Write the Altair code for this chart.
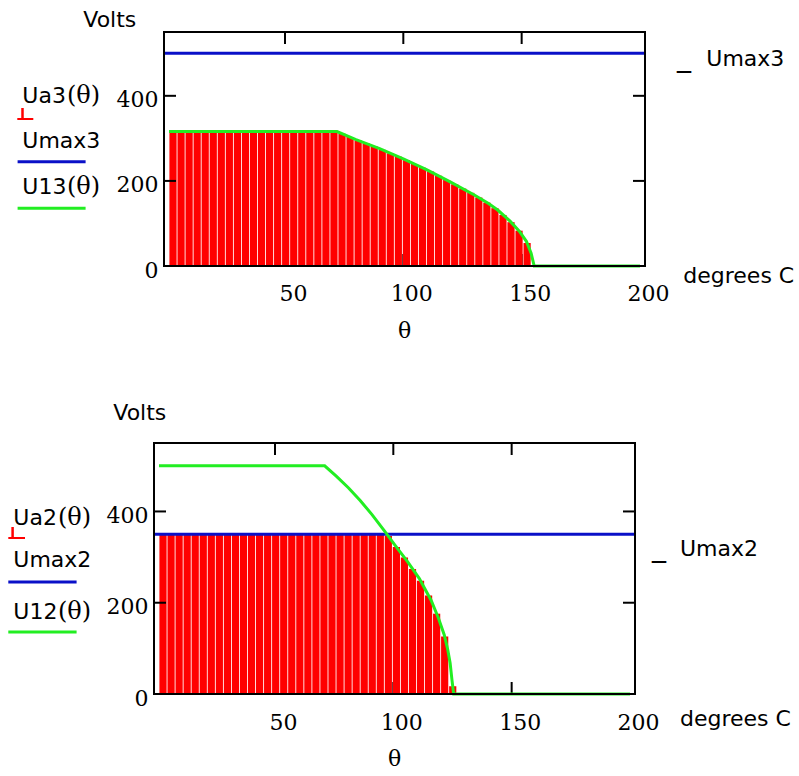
import altair as alt
import pandas as pd

# ---------------- data ----------------
# top panel (phase 3)
bar_theta_top = [2.7, 6.1, 9.5, 12.9, 16.3, 19.7, 23.1, 26.5, 29.9, 33.3, 36.7, 40.1,
                 43.5, 46.9, 50.3, 53.7, 57.1, 60.5, 63.9, 67.3, 70.7, 74.1, 77.5, 80.9,
                 84.3, 87.7, 91.1, 94.5, 97.9, 101.3, 104.7, 108.1, 111.5, 114.9, 118.3,
                 121.7, 125.1, 128.5, 131.9, 135.3, 138.7, 142.1, 145.5, 148.9, 152.3]
ua3 = [316, 316, 316, 316, 316, 316, 316, 316, 316, 316, 316, 316,
       316, 316, 316, 316, 316, 316, 316, 316, 316, 311, 303, 295,
       288, 281, 273, 265, 257, 249, 240, 231, 222, 212, 202,
       192, 182, 172, 161, 149, 136, 120, 103, 83, 54]
u13_theta = [1, 72, 80, 90, 100, 110, 120, 130, 136, 140, 145, 149, 152, 154, 155.3, 200]
u13 = [316, 316, 297, 276, 252, 226, 197, 167, 147, 131, 106, 82, 58, 30, 0, 0]
umax3 = [500]

# bottom panel (phase 2)
bar_theta_bot = [2.7, 6.1, 9.5, 12.9, 16.3, 19.7, 23.1, 26.5, 29.9, 33.3, 36.7, 40.1,
                 43.5, 46.9, 50.3, 53.7, 57.1, 60.5, 63.9, 67.3, 70.7, 74.1, 77.5, 80.9,
                 84.3, 87.7, 91.1, 94.5, 97.9, 101.3, 104.7, 108.1, 111.5, 114.9, 118.3,
                 121.7, 125.1]
ua2 = [350, 350, 350, 350, 350, 350, 350, 350, 350, 350, 350, 350,
       350, 350, 350, 350, 350, 350, 350, 350, 350, 350, 350, 350,
       350, 350, 350, 350, 346, 322, 299, 274, 248, 216, 176,
       126, 17]
u12_theta = [1, 71, 76, 81, 86, 91, 96, 101, 106, 111, 116, 119, 121.5, 123, 124, 124.8, 125.5, 200]
u12 = [500, 500, 477, 452, 424, 393, 359, 324, 290, 253, 205, 167, 130, 97, 68, 30, 0, 0]
umax2 = [350]

x_label_values = [50, 100, 150, 200]
x_tick_values = [50, 100, 150]
y_label_values = [0, 200, 400]
y_tick_values = [200, 400]

RED = "#ff0000"
GREEN = "#22ee22"
BLUE = "#0a10c8"
SANS = "DejaVu Sans"
SERIF = "DejaVu Serif"
PW = 481  # plot frame width
ONE = pd.DataFrame({"k": [0]})


def txt(text, x, y, font=SANS, size=22, align="left", baseline="alphabetic"):
    return alt.Chart(ONE).mark_text(text=text, font=font, fontSize=size, align=align,
                                    baseline=baseline, color="black").encode(
        x=alt.value(x), y=alt.value(y))


def hline(x1, x2, y, color, sw=3):
    return alt.Chart(ONE).mark_rule(color=color, strokeWidth=sw).encode(
        x=alt.value(x1), x2=alt.value(x2), y=alt.value(y))


def vline(x, y1, y2, color, sw=2.5):
    return alt.Chart(ONE).mark_rule(color=color, strokeWidth=sw).encode(
        x=alt.value(x), y=alt.value(y1), y2=alt.value(y2))


def panel(H, x0, bar_theta, bar_vals, c_theta, c_vals, umax, L, label_pad):
    W = x0 + PW
    xs = alt.Scale(domain=[1, 200], nice=False, zero=False, range=[x0, W])
    ys = alt.Scale(domain=[0, 550], nice=False)
    xaxis = alt.Axis(values=x_label_values, ticks=False, tickSize=0, domain=False, grid=False,
                     labelFont=SERIF, labelFontSize=22, labelColor="black",
                     labelPadding=label_pad, labelOffset=8, labelBaseline="middle", title=None)
    yaxis = alt.Axis(values=y_label_values, ticks=False, tickSize=0, domain=False, grid=False,
                     labelFont=SERIF, labelFontSize=22, labelColor="black", offset=-x0,
                     labelPadding=6, labelOffset=4, labelBaseline="middle", title=None)

    xt = pd.DataFrame({"theta": x_tick_values})
    yt = pd.DataFrame({"U": y_tick_values})
    bottom_ticks = alt.Chart(xt).mark_rule(color="black", strokeWidth=2).encode(
        x=alt.X("theta:Q", scale=xs, axis=xaxis), y=alt.value(H - 12), y2=alt.value(H))
    bars = alt.Chart(pd.DataFrame({"theta": bar_theta, "U": bar_vals})).mark_bar(
        color=RED, width=7.2).encode(
        x="theta:Q", y=alt.Y("U:Q", scale=ys, axis=yaxis))
    rule = alt.Chart(pd.DataFrame({"U": umax})).mark_rule(color=BLUE, strokeWidth=3).encode(
        y="U:Q", x=alt.value(x0), x2=alt.value(W))
    curve = alt.Chart(pd.DataFrame({"theta": c_theta, "U": c_vals})).mark_line(
        color=GREEN, strokeWidth=3).encode(x="theta:Q", y="U:Q")
    top_ticks = alt.Chart(xt).mark_rule(color="black", strokeWidth=2).encode(
        x="theta:Q", y=alt.value(0), y2=alt.value(12))
    left_ticks = alt.Chart(yt).mark_rule(color="black", strokeWidth=2).encode(
        y="U:Q", x=alt.value(x0), x2=alt.value(x0 + 12))
    right_ticks = alt.Chart(yt).mark_rule(color="black", strokeWidth=2).encode(
        y="U:Q", x=alt.value(W - 12), x2=alt.value(W))
    frame = [hline(x0 - 1, W + 1, 0, "black", 2), hline(x0 - 1, W + 1, H, "black", 2),
             vline(x0, 0, H, "black", 2), vline(W, 0, H, "black", 2)]

    layers = [bottom_ticks, bars, rule, curve, top_ticks, left_ticks, right_ticks] + frame
    X = lambda v: x0 + v
    layers += [
        txt("Volts", X(L["volts"][0]), L["volts"][1]),
        txt(L["n1"], X(L["leg_x"]), L["y1"]),
        txt("(θ)", X(L["par_x"]), L["y1"], font=SERIF, size=24),
        vline(X(L["sym_vx"]), L["sym_y1"], L["sym_y2"], RED),
        hline(X(L["sym_hx1"]), X(L["sym_hx2"]), L["sym_y2"], RED, sw=2),
        txt(L["n2"], X(L["leg_x"]), L["y2"]),
        hline(X(L["line_x1"]), X(L["line_x2"]), L["blue_y"], BLUE),
        txt(L["n3"], X(L["leg_x"]), L["y3"]),
        txt("(θ)", X(L["par_x"]), L["y3"], font=SERIF, size=24),
        hline(X(L["line_x1"]), X(L["line_x2"]), L["green_y"], GREEN),
        txt("_", X(L["us_x"]), L["um_y"], size=28),
        txt(L["n2"], X(L["um_x"]), L["um_y"]),
        txt("degrees C", X(L["deg"][0]), L["deg"][1], baseline="middle"),
        txt("θ", X(PW / 2), L["theta_y"], font=SERIF, size=22, align="center", baseline="middle"),
    ]
    return alt.layer(*layers).properties(width=W, height=H)


top_layout = dict(volts=(-80.7, -5), n1="Ua3", n2="Umax3", n3="U13",
                  leg_x=-141.7, par_x=-97, y1=70.7, y2=115.7, y3=161.7,
                  sym_vx=-141.5, sym_y1=76, sym_y2=87, sym_hx1=-146.7, sym_hx2=-130.7,
                  line_x1=-146.4, line_x2=-78.4, blue_y=129.7, green_y=176.3,
                  us_x=513, um_x=542.3, um_y=34, deg=(519.3, 244), theta_y=299)
bot_layout = dict(volts=(-40.7, -22.7), n1="Ua2", n2="Umax2", n3="U12",
                  leg_x=-140.7, par_x=-96, y1=81.6, y2=124, y3=175.6,
                  sym_vx=-141.4, sym_y1=84, sym_y2=95, sym_hx1=-145.7, sym_hx2=-129,
                  line_x1=-145.7, line_x2=-77.4, blue_y=139, green_y=189,
                  us_x=498, um_x=526, um_y=113, deg=(526, 276), theta_y=316)

top = panel(234, 10, bar_theta_top, ua3, u13_theta, u13, umax3, top_layout, 27)
bot = panel(251, 0, bar_theta_bot, ua2, u12_theta, u12, umax2, bot_layout, 28)

chart = alt.vconcat(top, bot, spacing=60).properties(
    padding={"left": 6, "top": 9, "right": 0, "bottom": 0}
).configure_view(strokeWidth=0)

chart.save("out.html", embed_options={"renderer": "svg", "actions": False})
